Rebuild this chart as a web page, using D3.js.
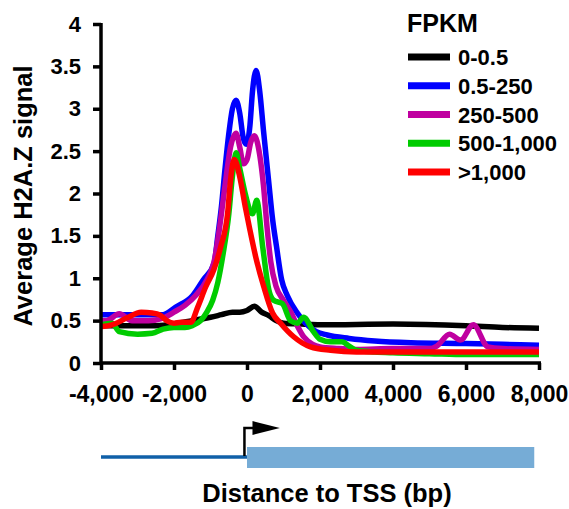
<!DOCTYPE html>
<html>
<head>
<meta charset="utf-8">
<script src="https://cdn.jsdelivr.net/npm/d3@7"></script>
<style>
  body { margin: 0; background: #fff; }
  text { font-family: "Liberation Sans", Arial, sans-serif; font-weight: bold; }
</style>
</head>
<body>
<script>
// H2A.Z signal around the TSS, by FPKM class
var groups = ["0-0.5", "0.5-250", "250-500", "500-1,000", ">1,000"];
var colors = ["#000000", "#0000ff", "#c000a0", "#00cc00", "#ff0000"];

var xTicks = [-4000, -2000, 0, 2000, 4000, 6000, 8000];
var xTickLabels = ["-4,000", "-2,000", "0", "2,000", "4,000", "6,000", "8,000"];
var yTicks = [0, 0.5, 1, 1.5, 2, 2.5, 3, 3.5, 4];
var yTickLabels = ["0", "0.5", "1", "1.5", "2", "2.5", "3", "3.5", "4"];

// [distance (bp), signal]
var black = [[-4000,0.44],[-3000,0.44],[-2500,0.44],[-2000,0.46],[-1500,0.5],[-1000,0.54],[-700,0.57],
  [-400,0.6],[-200,0.6],[0,0.62],[200,0.67],[400,0.6],[600,0.56],[800,0.5],[1000,0.47],[1500,0.46],
  [2000,0.45],[4000,0.46],[6000,0.44],[7000,0.42],[8000,0.41]];
var blue = [[-4000,0.57],[-3000,0.57],[-2300,0.57],[-1950,0.66],[-1480,0.8],[-1200,0.98],[-900,1.18],
  [-800,1.5],[-700,1.85],[-600,2.3],[-500,2.7],[-400,3.0],[-300,3.1],[-200,2.95],[-100,2.65],[-20,2.58],
  [80,2.8],[150,3.2],[250,3.45],[350,3.2],[450,2.75],[590,2.16],[700,1.7],[810,1.37],[950,0.98],
  [1100,0.8],[1380,0.59],[1600,0.47],[1900,0.37],[2200,0.33],[2800,0.29],[3500,0.26],[4500,0.24],
  [6000,0.23],[7000,0.22],[8000,0.21]];
var purple = [[-4000,0.5],[-3850,0.5],[-3500,0.58],[-3150,0.5],[-2700,0.5],[-2300,0.53],[-2000,0.6],
  [-1700,0.68],[-1400,0.8],[-1100,0.98],[-900,1.2],[-750,1.6],[-600,2.1],[-450,2.55],[-300,2.71],
  [-200,2.55],[-100,2.35],[0,2.4],[100,2.6],[200,2.68],[350,2.45],[450,2.1],[550,1.6],[650,1.2],
  [800,0.9],[1000,0.74],[1200,0.6],[1400,0.42],[1550,0.31],[1800,0.22],[2000,0.19],[2500,0.17],
  [3000,0.16],[4000,0.17],[5000,0.17],[5200,0.2],[5550,0.34],[5850,0.27],[6200,0.45],[6600,0.19],
  [7000,0.17],[8000,0.16]];
var green = [[-4000,0.45],[-3700,0.47],[-3500,0.37],[-3000,0.34],[-2600,0.35],[-2300,0.4],[-2000,0.42],
  [-1700,0.42],[-1500,0.44],[-1270,0.5],[-1100,0.6],[-940,0.74],[-800,0.95],[-650,1.3],[-500,1.75],
  [-400,2.2],[-300,2.48],[-200,2.3],[-50,2.0],[100,1.78],[150,1.76],[265,1.92],[430,1.37],[600,0.86],
  [730,0.74],[970,0.7],[1190,0.5],[1380,0.47],[1550,0.54],[1820,0.37],[2000,0.28],[2290,0.25],
  [2600,0.25],[2800,0.2],[3000,0.15],[3500,0.13],[4000,0.12],[5000,0.11],[6000,0.1],[8000,0.1]];
var red = [[-4000,0.43],[-3700,0.45],[-3300,0.53],[-2900,0.6],[-2600,0.59],[-2400,0.57],[-2200,0.5],
  [-2000,0.47],[-1810,0.48],[-1540,0.48],[-1350,0.66],[-1130,0.9],[-910,1.1],[-720,1.37],[-530,1.77],
  [-450,2.16],[-350,2.4],[-200,2.2],[-50,1.85],[80,1.57],[240,1.25],[460,0.9],[700,0.59],[920,0.47],
  [1280,0.31],[1740,0.19],[2290,0.15],[3000,0.13],[5000,0.13],[8000,0.13]];
var series = [black, blue, purple, green, red];

var svg = d3.select("body").append("svg")
  .attr("width", 569)
  .attr("height", 509);

var x = d3.scaleLinear().domain([-4000, 8000]).range([101, 539]);
var y = d3.scaleLinear().domain([0, 4]).range([363, 24]);

// lines
var line = d3.line()
  .x(function(d) { return x(d[0]); })
  .y(function(d) { return y(d[1]); })
  .curve(d3.curveMonotoneX);

svg.selectAll("path.series")
  .data(series)
  .enter()
  .append("path")
  .attr("class", "series")
  .attr("d", line)
  .attr("fill", "none")
  .attr("stroke", function(d, i) { return colors[i]; })
  .attr("stroke-width", 5.5)
  .attr("stroke-linejoin", "round");

// axes
var yAxis = d3.axisLeft(y)
  .tickValues(yTicks)
  .tickFormat(function(d, i) { return yTickLabels[i]; })
  .tickSize(8)
  .tickSizeOuter(0)
  .tickPadding(12);
var yGuide = svg.append("g")
  .attr("transform", "translate(101,0)")
  .call(yAxis);
yGuide.selectAll("text").style("font-size", "22px");

var xAxis = d3.axisBottom(x)
  .tickValues(xTicks)
  .tickFormat(function(d, i) { return xTickLabels[i]; })
  .tickSize(7)
  .tickSizeOuter(0)
  .tickPadding(16);
var xGuide = svg.append("g")
  .attr("transform", "translate(0,363)")
  .call(xAxis);
xGuide.selectAll("text").style("font-size", "23px");

[yGuide, xGuide].forEach(function(g) {
  g.selectAll("path").attr("stroke", "#000").attr("stroke-width", 3.5);
  g.selectAll("line").attr("stroke", "#000").attr("stroke-width", 3.5);
  g.selectAll("text")
    .attr("fill", "#000")
    .style("font-family", "'Liberation Sans', Arial, sans-serif")
    .style("font-weight", "bold");
});
xGuide.select(".domain").attr("d", "M" + x(-4000) + ",0H" + (x(8000) + 2));
yGuide.select(".domain").attr("d", "M0," + (y(4) - 1) + "V" + (y(0) + 1.5));

svg.append("text")
  .attr("transform", "translate(32,196) rotate(-90)")
  .attr("text-anchor", "middle")
  .style("font-size", "25.5px")
  .text("Average H2A.Z signal");

// legend
svg.append("text")
  .attr("x", 407)
  .attr("y", 32)
  .style("font-size", "25px")
  .text("FPKM");

var legend = svg.selectAll("g.legend")
  .data(groups)
  .enter()
  .append("g")
  .attr("class", "legend")
  .attr("transform", function(d, i) { return "translate(408," + (57 + i * 28.75) + ")"; });

legend.append("line")
  .attr("x1", 0).attr("x2", 42)
  .attr("stroke", function(d, i) { return colors[i]; })
  .attr("stroke-width", 7);

legend.append("text")
  .attr("x", 50)
  .attr("y", 8)
  .style("font-size", "22px")
  .text(function(d) { return d; });

// gene model under the axis
svg.append("line")
  .attr("x1", x(-4000)).attr("x2", x(0))
  .attr("y1", 457).attr("y2", 457)
  .attr("stroke", "#1060a8")
  .attr("stroke-width", 3.5);

svg.append("rect")
  .attr("x", x(0)).attr("y", 447)
  .attr("width", x(7870) - x(0)).attr("height", 21)
  .attr("fill", "#76acd6");

svg.append("path")
  .attr("d", "M" + (x(-70)) + ",456V428H" + (x(200)))
  .attr("fill", "none")
  .attr("stroke", "#000")
  .attr("stroke-width", 2.5);

svg.append("path")
  .attr("d", "M" + x(150) + ",421L" + x(900) + ",428L" + x(150) + ",435Z")
  .attr("fill", "#000");

svg.append("text")
  .attr("x", 327)
  .attr("y", 502)
  .attr("text-anchor", "middle")
  .style("font-size", "25.5px")
  .text("Distance to TSS (bp)");
</script>
</body>
</html>
